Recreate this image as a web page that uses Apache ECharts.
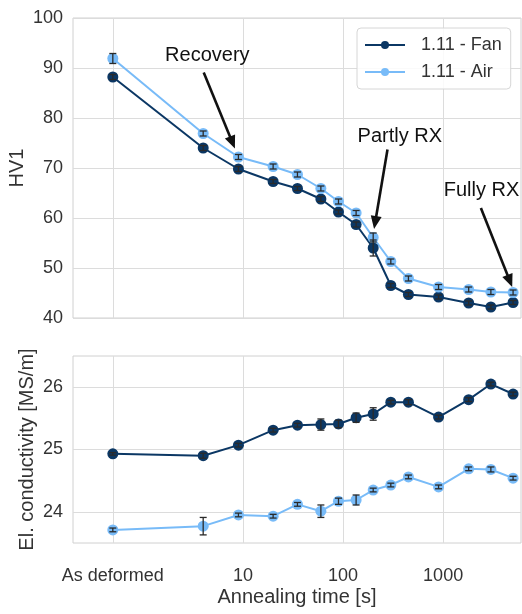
<!DOCTYPE html>
<html><head><meta charset="utf-8">
<script src="https://cdn.jsdelivr.net/npm/echarts@6/dist/echarts.min.js"></script>
<style>html,body{margin:0;padding:0;background:#fff}#chart{width:522px;height:614px}</style>
</head><body><div id="chart"></div>
<script>
// Annealing times [s]; 0.5 is where the as-deformed state sits on the log axis
const times = [0.5, 4, 9, 20, 35, 60, 90, 135, 200, 300, 450, 900, 1800, 3000, 5000];

// Hardness HV1
const hvFan    = [88.2, 74.0, 69.8, 67.3, 65.9, 63.8, 61.2, 58.7, 54.0, 46.5, 44.7, 44.2, 43.0, 42.2, 43.1];
const hvFanErr = [0.5, 0.5, 0.5, 0.4, 0.4, 0.5, 0.4, 0.5, 1.6, 0.4, 0.4, 0.4, 0.4, 0.4, 0.4];
const hvAir    = [91.9, 76.9, 72.2, 70.3, 68.7, 65.9, 63.3, 61.0, 56.1, 51.3, 47.9, 46.2, 45.7, 45.2, 45.1];
const hvAirErr = [1.0, 0.5, 0.5, 0.5, 0.5, 0.5, 0.5, 0.5, 0.9, 0.5, 0.5, 0.5, 0.5, 0.5, 0.5];

// Electrical conductivity [MS/m]
const ecFan    = [24.93, 24.90, 25.07, 25.31, 25.39, 25.40, 25.41, 25.51, 25.57, 25.76, 25.76, 25.52, 25.80, 26.05, 25.89];
const ecFanErr = [0.02, 0.04, 0.03, 0.03, 0.03, 0.09, 0.06, 0.075, 0.1, 0.03, 0.04, 0.03, 0.03, 0.03, 0.03];
const ecAir    = [23.71, 23.77, 23.95, 23.93, 24.12, 24.01, 24.17, 24.19, 24.35, 24.43, 24.56, 24.40, 24.69, 24.68, 24.54];
const ecAirErr = [0.03, 0.14, 0.03, 0.03, 0.03, 0.1, 0.05, 0.08, 0.03, 0.03, 0.03, 0.03, 0.03, 0.04, 0.03];

const xTickValues = [0.5, 10, 100, 1000];
const xTickLabels = ['As deformed', '10', '100', '1000'];
const ecTicks = [24, 25, 26];

const FAN = '#0b3764';
const AIR = '#78bbf8';
const FONT = 'Liberation Sans, Arial, sans-serif';
const TXT = '#333333';
const GRIDC = '#dcdcdc';

const pairs = (ys) => times.map((t, i) => [t, ys[i]]);
const triples = (ys, es) => times.map((t, i) => [t, ys[i], es[i]]);

function errorBars(params, api) {
  const x = api.value(0), y = api.value(1), e = api.value(2);
  const lo = api.coord([x, y - e]);
  const hi = api.coord([x, y + e]);
  const w = 3.5;
  const style = { stroke: '#2a2a2a', lineWidth: 1.3 };
  return {
    type: 'group',
    children: [
      { type: 'line', shape: { x1: lo[0], y1: lo[1], x2: hi[0], y2: hi[1] }, style },
      { type: 'line', shape: { x1: lo[0] - w, y1: lo[1], x2: lo[0] + w, y2: lo[1] }, style },
      { type: 'line', shape: { x1: hi[0] - w, y1: hi[1], x2: hi[0] + w, y2: hi[1] }, style }
    ]
  };
}

function lineSeries(name, color, ys, axis) {
  return {
    name, type: 'line', data: pairs(ys), xAxisIndex: axis, yAxisIndex: axis,
    symbol: 'circle', symbolSize: 11, showSymbol: true,
    lineStyle: { color, width: 2 }, itemStyle: { color },
    emphasis: { disabled: true }, animation: false, z: 3
  };
}
function errSeries(ys, es, axis) {
  return {
    type: 'custom', renderItem: errorBars, data: triples(ys, es),
    xAxisIndex: axis, yAxisIndex: axis, encode: { x: 0, y: 1 },
    animation: false, z: 4, silent: true
  };
}

function xAxis(gridIndex, showLabels) {
  return {
    type: 'log', gridIndex, min: 0.2, max: 6000, logBase: 10,
    axisLine: { show: false }, axisTick: { show: false, customValues: xTickValues },
    splitLine: { show: true, lineStyle: { color: GRIDC, width: 1 } },
    axisLabel: {
      show: showLabels, customValues: xTickValues, margin: 24,
      fontSize: 18, color: TXT, fontFamily: FONT,
      formatter: (v) => {
        const i = xTickValues.findIndex(t => Math.abs(t - v) / t < 1e-6);
        return i >= 0 ? xTickLabels[i] : '';
      }
    },
    name: showLabels ? 'Annealing time [s]' : '',
    nameLocation: 'middle', nameGap: 54, nameMoveOverlap: false,
    nameTextStyle: { fontSize: 20, color: TXT, fontFamily: FONT, verticalAlign: 'middle' }
  };
}

const chart = echarts.init(document.getElementById('chart'), null, { renderer: 'canvas' });
chart.setOption({
  backgroundColor: '#ffffff',
  animation: false,
  grid: [
    { left: 73, top: 18, width: 448, height: 300, show: true, borderColor: '#d0d0d0', borderWidth: 1,
      backgroundColor: 'transparent', containLabel: false, outerBoundsMode: 'none' },
    { left: 73, top: 356, width: 448, height: 187, show: true, borderColor: '#d0d0d0', borderWidth: 1,
      backgroundColor: 'transparent', containLabel: false, outerBoundsMode: 'none' }
  ],
  xAxis: [xAxis(0, false), xAxis(1, true)],
  yAxis: [
    {
      type: 'value', gridIndex: 0, min: 40, max: 100, interval: 10,
      axisLine: { show: false }, axisTick: { show: false },
      splitLine: { lineStyle: { color: GRIDC, width: 1 } },
      axisLabel: { fontSize: 18, color: TXT, fontFamily: FONT, margin: 10 },
      name: 'HV1', nameLocation: 'middle', nameGap: 56, nameMoveOverlap: false,
      nameTextStyle: { fontSize: 20, color: TXT, fontFamily: FONT, verticalAlign: 'middle' }
    },
    {
      type: 'value', gridIndex: 1, min: 23.5, max: 26.5,
      axisLine: { show: false }, axisTick: { show: false, customValues: ecTicks },
      splitLine: { lineStyle: { color: GRIDC, width: 1 } },
      axisLabel: { customValues: ecTicks, fontSize: 18, color: TXT, fontFamily: FONT, margin: 10 },
      name: 'El. conductivity [MS/m]', nameLocation: 'middle', nameGap: 46, nameMoveOverlap: false,
      nameTextStyle: { fontSize: 20, color: TXT, fontFamily: FONT, verticalAlign: 'middle' }
    }
  ],
  legend: {
    data: ['1.11 - Fan', '1.11 - Air'],
    orient: 'vertical', left: 357, top: 28,
    padding: [8, 9, 8, 7], itemGap: 9, itemWidth: 40, itemHeight: 10,
    borderColor: '#d6d6d6', borderWidth: 1, borderRadius: 4,
    backgroundColor: 'rgba(255,255,255,0.85)',
    textStyle: { fontSize: 18, color: TXT, fontFamily: FONT, lineHeight: 18, padding: [0, 0, 0, 11] },
    selectedMode: false
  },
  series: [
    lineSeries('1.11 - Fan', FAN, hvFan, 0),
    lineSeries('1.11 - Air', AIR, hvAir, 0),
    errSeries(hvFan, hvFanErr, 0),
    errSeries(hvAir, hvAirErr, 0),
    lineSeries('1.11 - Fan', FAN, ecFan, 1),
    lineSeries('1.11 - Air', AIR, ecAir, 1),
    errSeries(ecFan, ecFanErr, 1),
    errSeries(ecAir, ecAirErr, 1)
  ]
});

// Text labels with arrows pointing at stages of the hardness curve (data coordinates)
const notes = [
  { text: 'Recovery',  at: [4.4, 92.5],  from: [4.05, 89.1], to: [8.3, 73.9] },
  { text: 'Partly RX', at: [369, 76.3],  from: [278, 73.7],  to: [204, 57.8] },
  { text: 'Fully RX',  at: [2421, 65.5], from: [2384, 62.0], to: [4900, 46.2] }
];
const px = (p) => chart.convertToPixel({ xAxisIndex: 0, yAxisIndex: 0 }, p);
const graphics = [];
notes.forEach(n => {
  const c = px(n.at), a = px(n.from), b = px(n.to);
  graphics.push({
    type: 'text', x: c[0], y: c[1], z: 10,
    style: { text: n.text, fontSize: 20, fontFamily: FONT, fill: '#111111', align: 'center', verticalAlign: 'middle' }
  });
  const dx = b[0] - a[0], dy = b[1] - a[1];
  const len = Math.hypot(dx, dy), ux = dx / len, uy = dy / len;
  const hl = 13, hw = 5.5;
  const bx = b[0] - ux * hl, by = b[1] - uy * hl;
  graphics.push({
    type: 'line', z: 10,
    shape: { x1: a[0], y1: a[1], x2: bx + ux * 1, y2: by + uy * 1 },
    style: { stroke: '#111111', lineWidth: 2.6 }
  });
  graphics.push({
    type: 'polygon', z: 10,
    shape: { points: [[b[0], b[1]], [bx - uy * hw, by + ux * hw], [bx + uy * hw, by - ux * hw]] },
    style: { fill: '#111111' }
  });
});
chart.setOption({ graphic: graphics });
</script>
</body></html>
